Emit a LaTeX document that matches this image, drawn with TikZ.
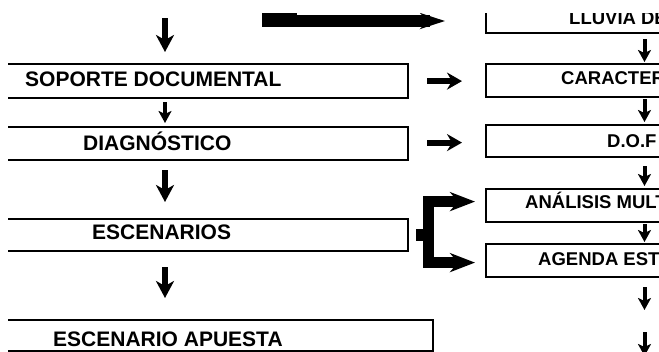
\documentclass[tikz,border=0pt]{standalone}
\usepackage{fontspec}
\setmainfont{Liberation Sans}
\usetikzlibrary{arrows.meta,calc}

\begin{document}
\begin{tikzpicture}[x=1pt,y=-1pt,
  lbox/.style={draw,line width=2.2pt,inner sep=0pt,anchor=north east,minimum width=500pt},
  rbox/.style={draw,line width=2.2pt,inner sep=0pt,anchor=north west,minimum width=300pt},
  ltext/.style={font=\fontsize{21}{25}\selectfont\bfseries,anchor=base west,inner sep=0pt},
  rtext/.style={font=\fontsize{18.5}{22}\selectfont\bfseries,anchor=base west,inner sep=0pt},
  bigdown/.style={line width=6pt,-{Stealth[length=17pt,width=18pt,inset=5pt]}},
  smalldown/.style={line width=4pt,-{Stealth[length=12pt,width=13pt,inset=3pt]}},
  sidearrow/.style={line width=6pt,-{Stealth[length=15pt,width=17pt,inset=5pt]}},
  brk/.style={line width=11pt,line join=miter,
    {Stealth[length=25pt,width=19pt,inset=8pt]}-{Stealth[length=25pt,width=19pt,inset=8pt]}}]
\fill[white] (0,0) rectangle (659,351);
\useasboundingbox (0,0) rectangle (659,351);
\clip (8,13) rectangle (659,351);

% left column
\node[lbox,minimum height=34pt] (soporte) at (409,63) {};
\node[lbox,minimum height=33pt] (diagnostico) at (409,126) {};
\node[lbox,minimum height=32pt] (escenarios) at (409,218) {};
\node[lbox,minimum height=31pt] (apuesta) at (434,319) {};
\node[ltext] (soporte-t) at (25,86) {SOPORTE DOCUMENTAL};
\node[ltext] (diagnostico-t) at (83,150) {DIAGNÓSTICO};
\node[ltext] (escenarios-t) at (92,239) {ESCENARIOS};
\node[ltext] (apuesta-t) at (53,346) {ESCENARIO APUESTA};

% right column
\node[rbox,minimum height=38pt] (lluvia) at (485,-6) {};
\node[rbox,minimum height=33pt] (caracter) at (485,63) {};
\node[rbox,minimum height=32pt] (dof) at (485,124) {};
\node[rbox,minimum height=33pt] (analisis) at (485,188) {};
\node[rbox,minimum height=33pt] (agenda) at (485,243) {};
\node[rtext] (lluvia-t) at (569,24) {LLUVIA DE};
\node[rtext] (caracter-t) at (561,84) {CARACTER};
\node[rtext] (dof-t) at (607,147) {D.O.F};
\node[rtext] (analisis-t) at (525,208) {ANÁLISIS MULT};
\node[rtext] (agenda-t) at (538,265) {AGENDA EST};

\coordinate (lcol) at (165,0);
\coordinate (rcol) at (644.5,0);

% top arrow
\coordinate (topstart) at (262,21);
\coordinate (lluvia-in) at (445,21);
\fill (262,0) rectangle (297,27);
\draw[line width=12pt,-{Stealth[length=25pt,width=16pt,inset=8pt]}] (topstart) -- (lluvia-in);

% down arrows, left
\draw[bigdown] ($(lcol)+(0,18)$) -- ($(lcol |- soporte.north)+(0,-11)$);
\draw[smalldown] ($(lcol |- soporte.south)+(0,3)$) -- ($(lcol |- diagnostico.north)+(0,-3)$);
\draw[bigdown] ($(lcol |- diagnostico.south)+(0,9)$) -- ($(lcol |- escenarios.north)+(0,-16)$);
\draw[bigdown] ($(lcol |- escenarios.south)+(0,15)$) -- ($(lcol |- apuesta.north)+(0,-21)$);

% down arrows, right
\draw[smalldown] ($(rcol |- lluvia.south)+(0,5)$) -- ($(rcol |- caracter.north)+(0,-1)$);
\draw[smalldown] ($(rcol |- caracter.south)+(0,1)$) -- ($(rcol |- dof.north)+(0,-2)$);
\draw[smalldown] ($(rcol |- dof.south)+(0,8)$) -- ($(rcol |- analisis.north)+(0,-2)$);
\draw[smalldown] ($(rcol |- analisis.south)+(0,1)$) -- ($(rcol |- agenda.north)+(0,-1)$);
\coordinate (next1) at ($(rcol)+(0,310)$);
\coordinate (next2a) at ($(rcol)+(0,332)$);
\coordinate (next2b) at ($(rcol)+(0,356)$);
\draw[smalldown] ($(rcol |- agenda.south)+(0,9)$) -- (next1);
\draw[smalldown] (next2a) -- (next2b);

% side arrows
\draw[sidearrow] ($(soporte.east)+(18,0)$) -- ($(caracter.west |- soporte.east)+(-23,0)$);
\draw[sidearrow] ($(diagnostico.east)+(18,-1)$) -- ($(dof.west |- diagnostico.east)+(-23,-1)$);

% bracket
\coordinate (fork) at ($(escenarios.east)+(19,0)$);
\fill ($(escenarios.east)+(7,-6)$) rectangle ($(escenarios.east)+(14,6)$);
\draw[brk] ($(analisis.west)+(-10,-4)$) -| (fork) |- ($(agenda.west)+(-10,2)$);
\end{tikzpicture}
\end{document}
